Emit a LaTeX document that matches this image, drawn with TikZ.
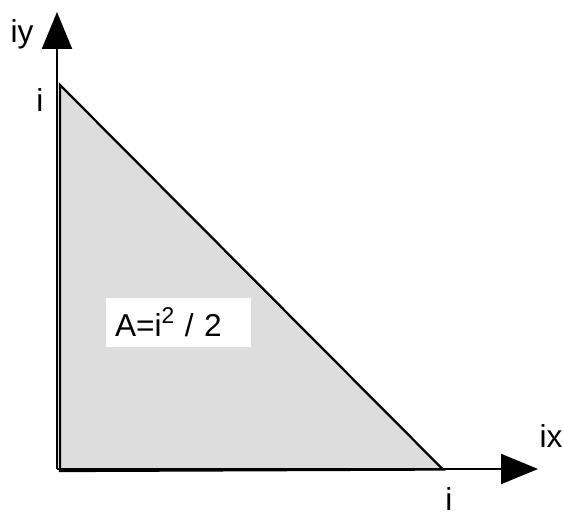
\documentclass[tikz,border=0pt]{standalone}
\usepackage{fontspec}
\setmainfont{Liberation Sans}
\usetikzlibrary{arrows.meta,positioning}
\definecolor{areagray}{HTML}{DDDDDD}

\begin{document}
\begin{tikzpicture}[
    every node/.style={font=\fontsize{18}{21}\selectfont, inner sep=1pt},
    axis/.style={-{Triangle[length=0.74cm, width=0.6cm]}, line width=1.2pt},
    edge/.style={line width=1.3pt, fill=areagray},
    areabox/.style={fill=white, text width=2.54cm, align=left, inner xsep=0.18cm, minimum height=0.98cm}
]
    \useasboundingbox (0,0) rectangle (11.26,10.34);

    % Triangle (the area)
    \coordinate (top) at (1.2,8.64);
    \coordinate (corner) at (1.2,0.92);
    \coordinate (right) at (8.86,0.95);
    \draw[edge] (top) -- (corner) -- (right) -- cycle;

    % Axes
    \coordinate (origin) at (1.14,0.96);
    \coordinate (xend) at (10.76,0.96);
    \coordinate (yend) at (1.14,10.1);
    \draw[axis] (origin) -- (xend);
    \draw[axis] (origin) -- (yend);

    % Labels
    \node (ylabel) at (0.44,9.66) {iy};
    \node (ytick) at (0.8,8.34) {i};
    \node (xlabel) at (11.02,1.62) {ix};
    \node (xtick) at (8.98,0.36) {i};

    % Formula
    \node[areabox] (area) at (3.57,3.89) {A=i\raisebox{0.42em}{\fontsize{13}{13}\selectfont 2} / 2};

\end{tikzpicture}
\end{document}
